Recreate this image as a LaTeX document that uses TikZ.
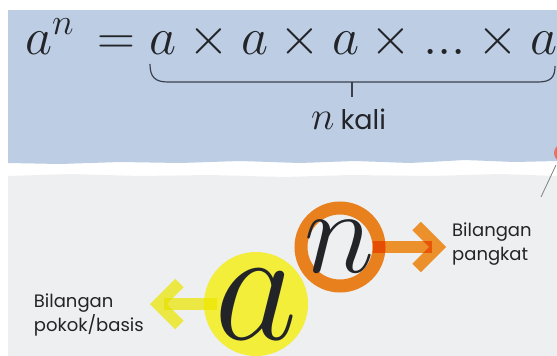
\RequirePackage{fix-cm}
\documentclass[tikz,border=0pt]{standalone}
\usepackage{fontspec}
\newfontfamily\popfont{Poppins}
\usetikzlibrary{arrows.meta}
\definecolor{bandblue}{RGB}{188,205,228}
\definecolor{paper}{RGB}{238,239,241}
\definecolor{ringorange}{RGB}{232,128,30}
\definecolor{arrorange}{RGB}{252,154,46}
\definecolor{diskyellow}{RGB}{242,238,58}
\definecolor{arryellow}{RGB}{252,248,72}
\definecolor{inkdark}{RGB}{34,36,40}
\definecolor{braceline}{RGB}{58,64,78}
\definecolor{cutred}{RGB}{232,112,96}

\begin{document}
\begin{tikzpicture}[x=1pt,y=-1pt,
 lbl/.style={font=\popfont\fontsize{18}{24}\selectfont,text=inkdark,align=left,inner sep=6pt},
 arr/.style={-{Straight Barb[length=21pt,width=42pt]},line width=12pt},
 brc/.style={draw=braceline,line width=1.2pt},
 ring/.style={circle,draw=ringorange,line width=13pt,minimum size=78pt,inner sep=0pt},
 disk/.style={circle,fill=diskyellow,minimum size=104pt,inner sep=0pt}]
\useasboundingbox (0,0) rectangle (557,356);
% paper and torn blue band
\fill[paper] (8,356) -- (8,176) -- (70,174) -- (140,176) -- (210,175) -- (285,177) -- (350,175) -- (430,176) -- (500,174) -- (557,176) -- (557,356) -- cycle;
\fill[bandblue] (8,10) -- (557,10) -- (557,161) -- (515,162) -- (465,160) -- (410,163) -- (355,161) -- (300,163) -- (240,161) -- (180,163) -- (120,162) -- (60,164) -- (8,163) -- cycle;
% formula with its bracket
\node[anchor=base west,inner sep=0pt,text=inkdark,font=\fontsize{52.5}{60}\selectfont] (eqn) at (25,54) {$a^n\, = a \times a \times a \times ... \times a$};
\draw[brc] (150,64) .. controls (150,77) and (155,82) .. (168,82) -- (538,82) .. controls (551,82) and (555,77) .. (555,66);
\draw[brc] (352,82) -- (352,97);
\node[anchor=base west,inner sep=0pt,text=inkdark] (kali) at (311,129) {\fontsize{40}{40}\selectfont$n$\hspace{6pt}\popfont\fontsize{27}{30}\selectfont kali};
% base and exponent
\node[disk] (acirc) at (256,304) {};
\node[ring] (ncirc) at (340,247) {};
\node[lbl,anchor=west] (pangkat) at (446,244) {Bilangan\\pangkat};
\node[lbl,anchor=east] (basis) at (150,315) {Bilangan\\pokok/basis};
\begin{scope}[blend mode=multiply]
\draw[arr,draw=arrorange,shorten <=33pt] (ncirc.center) -- (ncirc.center -| pangkat.west);
\draw[arr,draw=arryellow,shorten <=39pt] (acirc.center) -- (acirc.center -| basis.east);
\end{scope}
\node[text=inkdark,font=\fontsize{120}{120}\selectfont,inner sep=0pt] (nsym) at (340,247) {$n$};
\node[text=inkdark,font=\fontsize{162}{162}\selectfont,inner sep=0pt] (asym) at (256,305) {$a$};
% cut-off bits at the right edge
\fill[cutred] (563,153) circle (9pt);
\coordinate (cutA) at (556,165);
\coordinate (cutB) at (541,197);
\draw[gray,line width=0.8pt] (cutA) -- (cutB);
\end{tikzpicture}
\end{document}
